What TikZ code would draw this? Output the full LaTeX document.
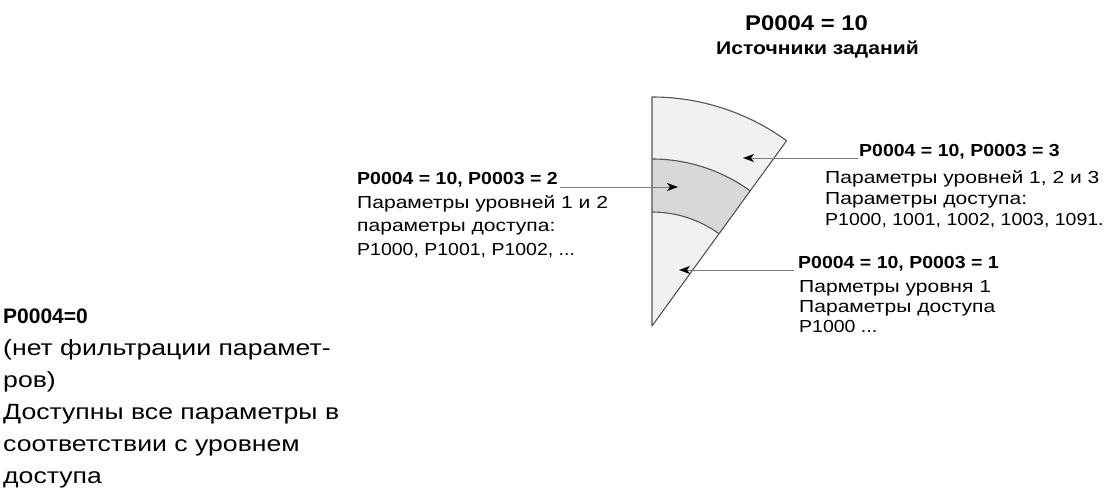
\documentclass[tikz,border=0pt]{standalone}
\usepackage{fontspec}
\setmainfont{Liberation Sans}
\newfontfamily\lblfont{Liberation Sans}[FakeStretch=1.12]
\newfontfamily\cyrfont{Liberation Sans}[FakeStretch=1.21]
\newfontfamily\ttlfont{Liberation Sans}[FakeStretch=1.16]
\usetikzlibrary{arrows.meta}
\usetikzlibrary{calc}

\definecolor{bandlight}{RGB}{241,241,241}
\definecolor{banddark}{RGB}{216,216,216}
\definecolor{rimgray}{RGB}{85,85,85}
\definecolor{leadgray}{RGB}{125,125,125}

\begin{document}
\begin{tikzpicture}[x=1pt,y=1pt]

\def\ax{652}
\def\ay{162}
\def\rout{229}
\def\rmid{167}
\def\rin{114}
\def\aend{54}

\tikzset{rim/.style = {line width=1.1pt, rimgray}}
\tikzset{pointer/.style = {line width=0.9pt, leadgray, -{Stealth[length=11pt,width=8pt,black,inset=3pt]}}}
\tikzset{lblhead/.style = {inner sep=0pt, anchor=base west, font=\lblfont\bfseries\fontsize{17.4}{21}\selectfont}}
\tikzset{lblbody/.style = {inner sep=0pt, anchor=north west, align=left}}

\newcommand\pline[1]{{\lblfont #1}}

\useasboundingbox (0,0) rectangle (1115,488);

%sector with the three levels
\coordinate (apex) at (\ax,\ay);
\fill[bandlight] (apex) -- ++(90:\rout) arc[start angle=90, end angle=\aend, radius=\rout] -- cycle;
\fill[banddark] ($(apex)+(90:\rmid)$) arc[start angle=90, end angle=\aend, radius=\rmid]
                -- ($(apex)+(\aend:\rin)$) arc[start angle=\aend, end angle=90, radius=\rin] -- cycle;
\draw[rim] ($(apex)+(90:\rmid)$) arc[start angle=90, end angle=\aend, radius=\rmid];
\draw[rim] ($(apex)+(90:\rin)$) arc[start angle=90, end angle=\aend, radius=\rin];
\draw[rim, line join=round] (apex) -- ++(90:\rout) arc[start angle=90, end angle=\aend, radius=\rout] -- cycle;

%title
\node[lblhead, font=\lblfont\bfseries\fontsize{21.3}{24}\selectfont] (title) at (745,457) {P0004 = 10};
\node[lblhead, font=\ttlfont\bfseries\fontsize{18.2}{22}\selectfont] (subtitle) at (716,433) {Источники заданий};

%left block: no filter
\node[lblbody, font=\cyrfont\fontsize{22}{32}\selectfont] (nofilter) at (3,179)
  {{\rmfamily\bfseries\fontsize{21}{32}\selectfont P0004=0}\\(нет фильтрации парамет-\\ров)\\Доступны все параметры в\\соответствии с уровнем\\доступа};

%level 2
\node[lblhead] (hdrtwo) at (357,304) {P0004 = 10, P0003 = 2};
\node[lblbody, font=\cyrfont\fontsize{17.4}{23.5}\selectfont] (bodytwo) at (357,293)
  {Параметры уровней 1 и 2\\параметры доступа:\\\pline{P1000, P1001, P1002, ...}};

%level 3
\node[lblhead] (hdrthree) at (859,331) {P0004 = 10, P0003 = 3};
\node[lblbody, font=\cyrfont\fontsize{17.4}{21}\selectfont] (bodythree) at (825,318)
  {Параметры уровней 1, 2 и 3\\Параметры доступа:\\\pline{P1000, 1001, 1002, 1003, 1091.}};

%level 1
\node[lblhead] (hdrone) at (798,220) {P0004 = 10, P0003 = 1};
\node[lblbody, font=\cyrfont\fontsize{17.4}{20}\selectfont] (bodyone) at (799,208)
  {Парметры уровня 1\\Параметры доступа\\\pline{P1000 ...}};

%pointers into the sector
\coordinate (tiptwo) at (678,301);
\coordinate (tipthree) at (743,330);
\coordinate (tipone) at (679,218);

\draw[pointer] ([xshift=2pt, yshift=-3pt]hdrtwo.base east) -- (tiptwo);
\draw[pointer] ([xshift=-1pt, yshift=-1pt]hdrthree.base west) -- (tipthree);
\draw[pointer] ([xshift=-4pt, yshift=-2pt]hdrone.base west) -- (tipone);

\end{tikzpicture}
\end{document}
